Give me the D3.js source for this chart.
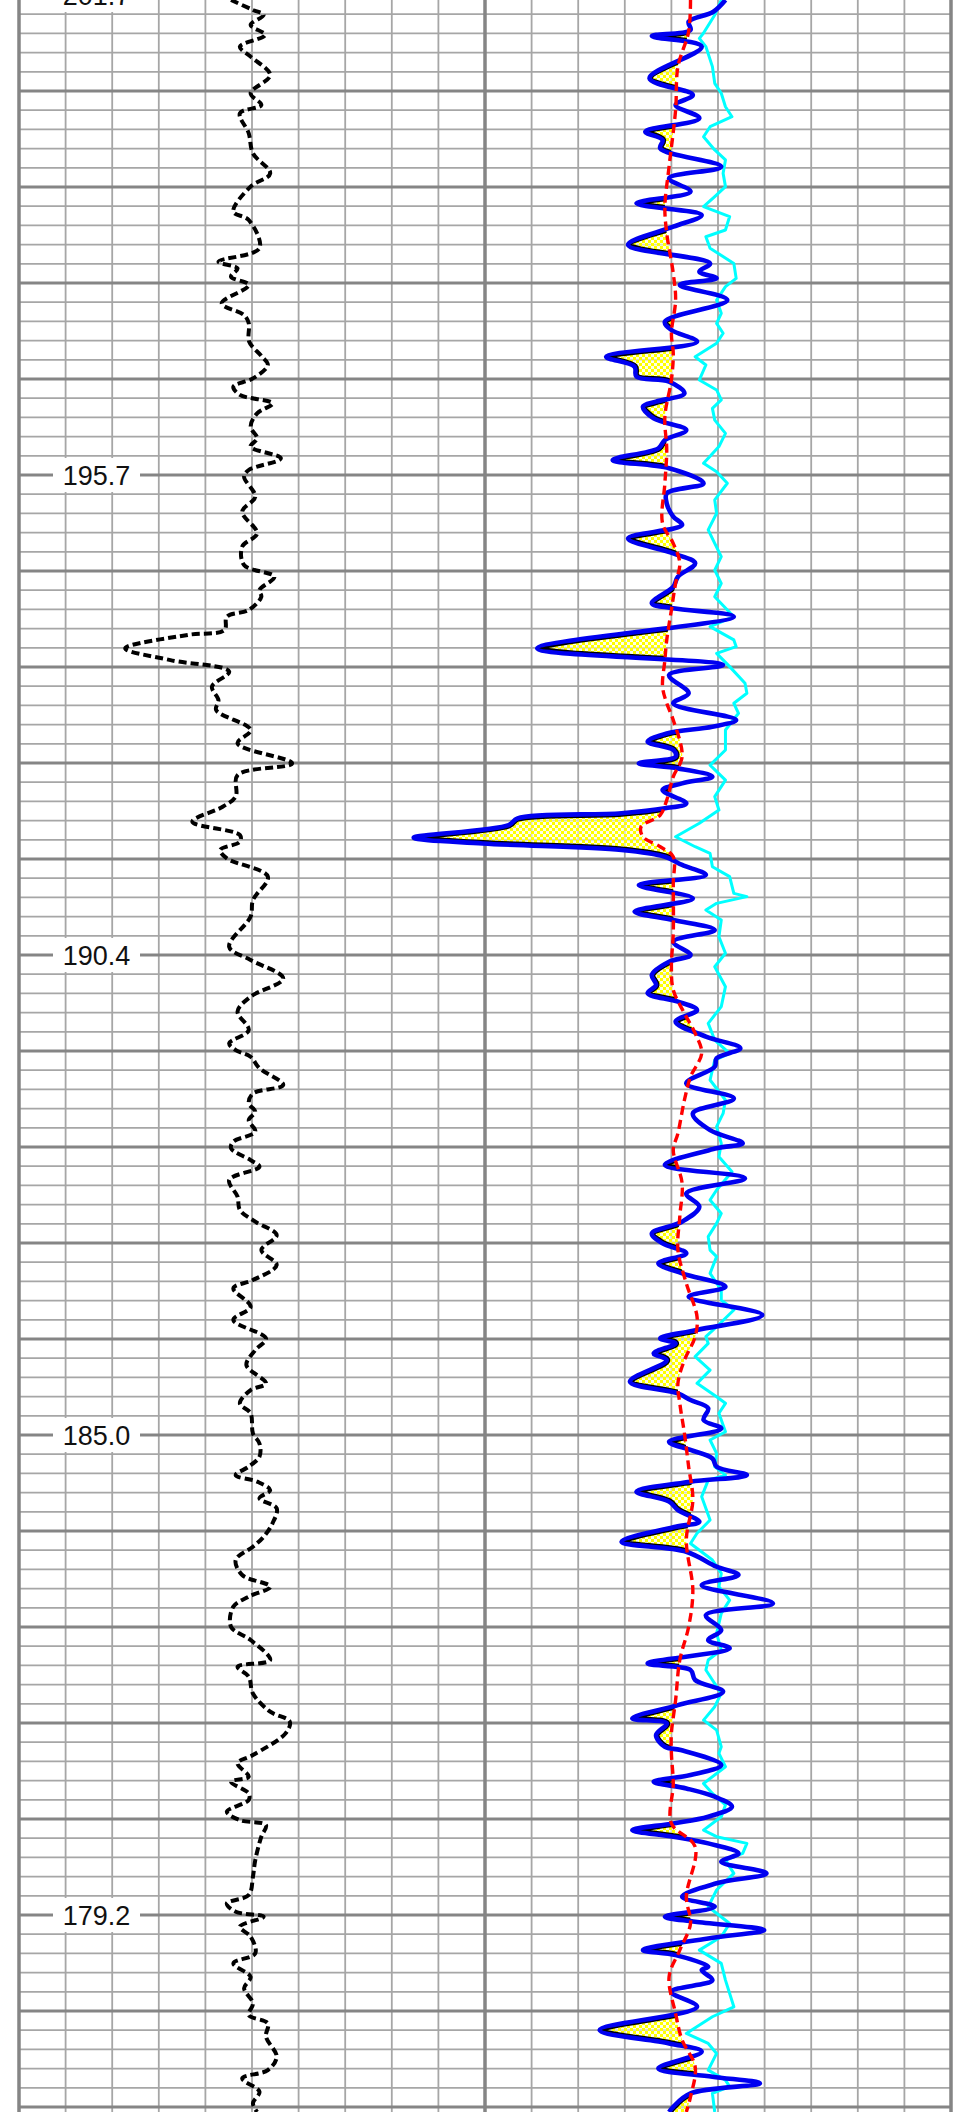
<!DOCTYPE html>
<html><head><meta charset="utf-8">
<script src="https://cdn.jsdelivr.net/npm/d3@7"></script>
<style>html,body{margin:0;padding:0;background:#fff;}svg{display:block;}</style>
</head><body>
<svg id="chart" width="959" height="2112"></svg>
<script>
// depth labels and the grid rows (minor-grid units) where they sit
const depthLabels = ["201.7","195.7","190.4","185.0","179.2"];
const labelRows = [0, 25, 50, 75, 100];

// each curve: [row (minor-grid units from top label), value (track divisions)]
const blackLog = [[0.26,4.55],[0.78,5.02],[1.04,5.25],[1.56,4.97],[2.08,5.28],[2.69,4.74],[3.21,4.97],[4.17,5.39],[5.12,4.97],[5.73,5.20],[6.16,4.74],[7.20,4.93],[8.25,5.02],[9.29,5.39],[9.98,4.97],[11.28,4.60],[11.72,4.93],[13.19,5.16],[13.89,4.28],[14.24,4.69],[14.67,4.55],[15.10,4.93],[16.06,4.35],[16.67,4.83],[17.10,4.93],[18.06,4.94],[18.80,5.20],[19.27,5.34],[19.97,5.02],[20.40,4.60],[20.83,4.74],[21.27,5.44],[21.79,5.11],[22.48,4.97],[23.09,5.11],[23.52,4.97],[24.13,5.62],[24.74,4.93],[25.09,4.83],[26.13,5.07],[26.91,4.79],[28.04,5.11],[28.73,4.79],[29.69,4.83],[30.30,5.48],[30.99,5.16],[31.34,5.20],[32.03,4.93],[32.38,4.46],[33.07,4.41],[33.33,3.62],[34.03,2.28],[34.64,3.25],[35.24,4.51],[36.02,4.14],[36.72,4.28],[37.24,4.23],[38.28,4.97],[38.98,4.69],[40.02,5.86],[40.63,4.69],[41.75,4.65],[42.28,4.37],[43.06,3.72],[43.75,4.74],[44.10,4.74],[44.53,4.32],[44.97,4.46],[45.92,5.34],[47.14,5.02],[48.00,4.97],[49.57,4.51],[50.26,4.97],[51.22,5.67],[52.17,4.97],[52.95,4.69],[53.91,4.93],[54.60,4.51],[54.95,4.65],[55.30,4.97],[55.90,5.16],[56.77,5.67],[57.21,5.02],[57.73,4.93],[58.16,5.07],[58.60,4.93],[59.20,5.07],[59.72,4.60],[60.07,4.55],[60.68,4.97],[61.03,5.16],[61.72,4.51],[62.59,4.69],[63.28,4.74],[63.89,5.07],[64.59,5.53],[65.37,5.20],[66.15,5.53],[66.93,5.02],[67.36,4.60],[68.32,4.97],[69.01,4.60],[69.97,5.30],[70.58,5.07],[71.36,4.88],[72.31,5.30],[72.66,4.97],[73.35,4.74],[73.87,4.97],[74.92,5.02],[75.44,5.16],[76.13,5.16],[76.65,4.93],[77.09,4.65],[77.43,5.11],[77.87,5.39],[78.30,5.16],[78.82,5.53],[79.60,5.44],[80.30,5.25],[80.82,5.02],[81.51,4.65],[82.29,4.79],[82.90,5.39],[83.42,4.93],[83.94,4.60],[84.99,4.55],[85.68,4.97],[86.72,5.39],[87.07,4.69],[87.59,4.93],[88.46,5.02],[89.41,5.39],[89.93,5.81],[90.54,5.72],[91.67,5.02],[92.10,4.69],[92.80,4.93],[93.06,4.55],[93.67,4.93],[94.01,4.93],[94.62,4.46],[95.06,4.74],[95.32,5.30],[95.92,5.20],[97.14,5.07],[98.01,5.02],[98.96,4.93],[99.40,4.46],[99.83,4.65],[100.09,5.25],[100.61,4.74],[101.13,4.97],[102.00,5.07],[102.52,4.60],[103.22,4.97],[103.82,4.83],[104.60,5.02],[105.21,4.93],[105.65,5.34],[106.34,5.30],[107.38,5.53],[108.08,5.34],[108.51,4.79],[109.20,5.16],[109.81,5.02],[110.26,5.11]];

const blueLog = [[0.26,5.16],[0.87,4.90],[1.39,4.37],[1.82,4.41],[2.14,3.58],[2.69,4.65],[4.34,3.53],[5.21,4.46],[5.73,4.09],[6.42,4.60],[7.12,3.44],[7.55,3.81],[7.99,3.76],[8.94,5.07],[9.55,3.95],[10.24,4.41],[10.85,3.25],[11.46,4.65],[12.07,4.04],[13.02,3.07],[13.98,4.83],[14.41,4.60],[14.76,4.97],[15.10,4.18],[15.89,5.20],[17.01,3.86],[17.45,4.00],[18.06,4.55],[18.84,2.60],[19.36,3.21],[19.88,3.25],[20.14,3.95],[20.75,4.28],[21.18,3.67],[21.44,3.39],[22.05,3.62],[22.66,4.32],[23.18,3.86],[23.61,3.72],[24.22,2.74],[24.65,3.95],[25.43,4.69],[25.95,3.90],[26.48,3.90],[27.17,4.04],[27.60,4.23],[28.30,3.07],[29.08,4.04],[29.60,4.51],[30.30,4.14],[30.82,4.04],[31.68,3.58],[31.94,4.04],[32.38,5.34],[34.03,1.12],[34.90,5.11],[35.42,3.95],[36.37,4.37],[36.89,4.04],[37.76,5.39],[38.11,4.88],[38.46,3.90],[38.89,3.49],[39.32,4.04],[39.67,4.09],[40.02,3.30],[40.28,4.14],[40.71,4.88],[41.06,4.23],[41.41,3.81],[42.10,4.32],[42.36,3.86],[42.62,2.93],[42.88,0.70],[43.23,0.51],[43.89,-1.53],[44.19,-0.05],[44.53,2.93],[44.88,3.86],[45.31,4.23],[45.83,4.74],[46.36,3.30],[47.05,4.46],[47.74,3.21],[48.18,4.04],[48.70,4.93],[49.31,4.04],[50.00,4.41],[50.35,3.95],[51.04,3.58],[51.56,3.67],[51.99,3.49],[52.43,4.14],[52.87,4.55],[53.47,4.09],[54.25,4.74],[54.86,5.48],[55.38,4.97],[55.82,4.93],[56.69,4.32],[57.47,5.34],[58.25,4.46],[59.12,4.83],[59.81,5.53],[60.07,4.97],[60.94,3.86],[61.63,5.58],[62.42,4.32],[63.11,4.60],[63.89,4.23],[64.50,3.58],[65.02,3.81],[65.54,4.32],[66.06,3.72],[66.58,4.23],[67.28,5.16],[67.80,4.37],[68.75,5.95],[69.53,4.55],[69.97,3.76],[70.23,4.09],[70.75,3.62],[71.10,3.90],[72.22,3.11],[72.83,4.14],[73.18,4.41],[73.61,4.79],[74.22,4.69],[74.66,5.07],[75.35,3.95],[75.78,4.41],[76.22,4.88],[76.65,4.97],[77.09,5.62],[77.43,4.41],[77.95,3.25],[78.47,3.95],[78.91,4.14],[79.52,4.60],[79.78,4.09],[80.56,2.93],[81.08,4.32],[81.86,4.97],[82.29,5.44],[82.82,4.65],[83.77,6.18],[84.38,4.74],[85.16,5.07],[85.68,4.79],[86.11,5.25],[86.90,3.49],[87.24,4.41],[87.76,4.51],[88.37,5.11],[89.07,4.14],[89.76,3.16],[90.02,3.90],[90.63,3.67],[91.24,3.86],[91.41,4.20],[92.19,5.07],[92.71,4.41],[93.06,3.62],[93.41,4.32],[93.84,4.93],[94.36,5.30],[94.88,4.79],[95.23,4.04],[95.58,3.16],[95.92,4.04],[96.27,4.79],[96.79,5.44],[97.23,5.07],[97.83,6.04],[98.35,4.97],[99.05,4.23],[99.57,4.93],[100.09,3.86],[100.35,4.51],[100.79,5.99],[101.22,4.79],[101.83,3.39],[102.09,4.09],[102.69,4.79],[102.87,4.65],[103.39,4.88],[104.00,4.00],[104.78,4.55],[105.99,2.46],[106.69,3.95],[107.12,4.65],[107.99,3.72],[108.42,4.88],[108.77,5.90],[109.29,4.41],[109.99,4.04],[110.26,3.95]];

const redLog = [[0.26,4.41],[1.91,4.37],[3.73,4.14],[5.99,4.09],[8.94,3.95],[11.02,3.86],[12.41,3.90],[14.50,4.04],[15.89,4.09],[17.62,4.00],[18.66,4.04],[20.05,4.00],[21.96,3.86],[23.70,3.90],[25.43,3.86],[27.52,3.81],[28.56,4.04],[29.60,4.18],[30.64,4.09],[32.03,4.00],[33.59,3.90],[34.64,3.86],[36.02,3.81],[36.89,3.90],[37.76,4.04],[39.67,4.23],[40.71,4.04],[41.93,3.90],[42.71,3.76],[43.32,3.35],[43.84,3.39],[44.36,3.76],[44.88,4.04],[46.27,4.04],[48.87,4.04],[50.61,4.00],[51.82,4.04],[53.04,4.28],[54.08,4.51],[55.12,4.65],[56.34,4.41],[57.55,4.28],[59.29,4.14],[60.16,4.04],[61.89,4.23],[63.63,4.18],[65.37,4.14],[67.10,4.32],[68.84,4.55],[69.88,4.51],[71.10,4.28],[72.31,4.14],[73.35,4.18],[74.92,4.28],[76.65,4.37],[78.39,4.46],[80.47,4.32],[83.08,4.46],[84.99,4.37],[86.72,4.18],[88.81,4.09],[90.54,4.00],[91.58,4.00],[93.15,4.04],[95.23,4.00],[96.45,4.51],[99.05,4.32],[100.44,4.41],[101.83,4.18],[103.22,3.95],[105.13,4.09],[106.51,4.23],[107.90,4.51],[109.47,4.41],[110.26,4.32]];

const cyanLog = [[0.26,5.07],[1.04,4.93],[1.98,4.69],[2.26,4.60],[2.69,4.74],[3.73,4.88],[4.60,4.93],[5.12,5.07],[5.82,5.16],[6.34,5.30],[6.86,4.83],[7.38,4.69],[8.07,4.93],[8.59,5.16],[9.29,5.11],[9.98,5.16],[10.50,4.93],[11.02,4.69],[11.54,5.25],[12.24,5.16],[12.59,4.74],[13.19,4.83],[13.98,5.34],[14.76,5.39],[15.19,5.16],[15.89,4.97],[16.58,5.07],[17.10,4.97],[17.62,5.11],[18.14,4.97],[18.84,4.51],[19.27,4.74],[20.05,4.60],[20.57,4.97],[21.09,5.07],[21.53,4.88],[22.14,4.93],[22.83,5.16],[23.52,5.02],[24.13,4.79],[24.39,4.69],[24.83,4.97],[25.43,5.20],[26.30,4.93],[26.99,4.97],[27.86,4.79],[28.56,4.93],[29.25,5.07],[29.95,4.93],[30.64,5.07],[31.34,4.93],[32.38,5.34],[32.90,4.83],[33.59,5.34],[33.94,5.39],[34.29,4.97],[34.98,5.25],[35.85,5.58],[36.37,5.62],[36.89,5.34],[37.41,5.44],[38.28,5.16],[39.32,5.16],[40.11,4.83],[40.89,5.16],[41.75,4.93],[42.45,5.02],[43.14,4.60],[43.84,4.09],[44.36,4.51],[44.71,4.83],[45.40,4.88],[45.92,5.25],[46.79,5.34],[46.96,5.62],[47.31,4.97],[47.66,4.74],[48.18,5.07],[49.05,5.02],[49.91,5.16],[50.61,4.93],[51.65,5.16],[52.69,5.07],[53.56,4.79],[54.43,4.93],[55.12,5.25],[55.47,4.93],[56.51,4.83],[57.55,5.16],[58.25,5.11],[58.94,4.97],[59.81,5.07],[60.51,5.02],[61.29,5.30],[62.24,4.97],[62.76,4.83],[63.46,5.07],[63.98,4.97],[64.67,4.79],[65.37,4.83],[65.71,4.97],[66.58,4.83],[67.45,5.07],[67.97,5.07],[68.49,5.34],[69.36,4.97],[69.88,4.74],[70.23,4.79],[70.92,4.51],[71.62,4.83],[72.31,4.55],[73.01,4.97],[73.35,5.16],[73.87,5.02],[74.83,5.16],[75.26,4.83],[75.96,4.97],[76.65,4.93],[77.09,5.16],[77.35,4.79],[78.21,4.65],[79.43,4.83],[80.12,4.55],[80.65,4.41],[81.51,4.88],[82.21,5.07],[82.90,5.02],[83.60,5.25],[84.29,5.07],[85.33,4.97],[86.20,5.07],[86.72,4.79],[87.24,4.74],[87.76,4.88],[88.46,5.07],[89.15,4.93],[89.85,4.69],[90.37,4.97],[91.24,5.07],[91.58,5.02],[92.28,5.16],[93.15,4.69],[93.67,4.88],[94.27,5.16],[94.88,5.07],[95.58,4.69],[95.92,4.97],[96.27,5.62],[96.79,5.53],[97.14,5.16],[97.83,5.34],[98.70,4.97],[99.57,4.79],[100.44,5.25],[101.13,5.07],[101.83,4.60],[102.52,5.07],[103.39,5.16],[104.78,5.34],[105.30,4.88],[106.17,4.32],[106.69,4.79],[107.21,4.97],[108.08,4.79],[108.60,5.16],[108.94,5.25],[109.29,4.88],[110.26,4.93]];

const W = 959, H = 2112;
const svg = d3.select("#chart");
const y = d3.scaleLinear().domain([0, 110]).range([-5, 2107]);
const xL = d3.scaleLinear().domain([0, 10]).range([19, 485]);
const xR = d3.scaleLinear().domain([0, 10]).range([485, 951]);

const defs = svg.append("defs");
const pat = defs.append("pattern").attr("id","checker").attr("patternUnits","userSpaceOnUse").attr("width",6).attr("height",6);
pat.append("rect").attr("width",6).attr("height",6).attr("fill","#ffffd8").attr("fill-opacity",0.6);
pat.append("rect").attr("width",3).attr("height",3).attr("fill","#ffff00");
pat.append("rect").attr("x",3).attr("y",3).attr("width",3).attr("height",3).attr("fill","#ffff00");

svg.append("rect").attr("width",W).attr("height",H).attr("fill","#fff");

// grid
const grid = svg.append("g");
const rows = d3.range(0, 111);
const cols = d3.range(0, 11);
grid.selectAll("line.hmin").data(rows.filter(t => t % 5 !== 0)).join("line")
  .attr("x1", xL(0)).attr("x2", xR(10)).attr("y1", d => y(d)).attr("y2", d => y(d))
  .attr("stroke", "#a6a6a6").attr("stroke-width", 1.8);
grid.selectAll("line.vmin").data([...cols.slice(1,10).map(xL), ...cols.slice(1,10).map(xR)]).join("line")
  .attr("x1", d => d).attr("x2", d => d).attr("y1", 0).attr("y2", H)
  .attr("stroke", "#a6a6a6").attr("stroke-width", 1.8);
grid.selectAll("line.hmaj").data(rows.filter(t => t % 5 === 0)).join("line")
  .attr("x1", xL(0)).attr("x2", xR(10)).attr("y1", d => y(d)).attr("y2", d => y(d))
  .attr("stroke", "#858585").attr("stroke-width", 3);
grid.selectAll("line.vmaj").data([xL(0), xL(10), xR(10)]).join("line")
  .attr("x1", d => d).attr("x2", d => d).attr("y1", 0).attr("y2", H)
  .attr("stroke", "#858585").attr("stroke-width", 3.5);

// curve generators
const blueCurve = d3.curveCatmullRom.alpha(0.5);
const redCurve = d3.curveCatmullRom.alpha(0.5);
const blueLine = d3.line().x(d => xR(d[1])).y(d => y(d[0])).curve(blueCurve);
const redLine = d3.line().x(d => xR(d[1])).y(d => y(d[0])).curve(redCurve);
const cyanLine = d3.line().x(d => xR(d[1])).y(d => y(d[0])).curve(d3.curveLinear);
const blackLine = d3.line().x(d => xL(d[1])).y(d => y(d[0])).curve(d3.curveCatmullRom.alpha(0.5));

// clip: left of red, right of blue
defs.append("clipPath").attr("id","leftOfRed").append("path")
  .attr("d", d3.area().y(d => y(d[0])).x0(-10).x1(d => xR(d[1])).curve(redCurve)(redLog));
defs.append("clipPath").attr("id","rightOfBlue").append("path")
  .attr("d", d3.area().y(d => y(d[0])).x0(d => xR(d[1])).x1(W + 10).curve(blueCurve)(blueLog));

const fillG = svg.append("g").attr("clip-path","url(#leftOfRed)")
  .append("g").attr("clip-path","url(#rightOfBlue)");
fillG.append("rect").attr("x",0).attr("y",0).attr("width",W).attr("height",H).attr("fill","url(#checker)");
fillG.append("path").attr("d", blueLine(blueLog)).attr("fill","none").attr("stroke","#000").attr("stroke-width",7);

// curves
svg.append("path").attr("d", blackLine(blackLog)).attr("fill","none")
  .attr("stroke","#000").attr("stroke-width",4).attr("stroke-dasharray","8 4");
svg.append("path").attr("d", cyanLine(cyanLog)).attr("fill","none")
  .attr("stroke","#00ffff").attr("stroke-width",3).attr("stroke-linejoin","round");
svg.append("path").attr("d", blueLine(blueLog)).attr("fill","none")
  .attr("stroke","#0000f0").attr("stroke-width",4.6).attr("stroke-linejoin","round");
svg.append("path").attr("d", redLine(redLog)).attr("fill","none")
  .attr("stroke","#ff0000").attr("stroke-width",3.4).attr("stroke-dasharray","9 5");

// depth labels
const lab = svg.append("g").selectAll("g").data(labelRows).join("g");
lab.append("rect").attr("x",53).attr("y",d => y(d) - 17).attr("width",87).attr("height",34).attr("fill","#fff");
lab.append("text").attr("x",96.5).attr("y",d => y(d) + 10).attr("text-anchor","middle")
  .attr("font-family","'Liberation Sans', Arial, sans-serif").attr("font-size",27).attr("fill","#111")
  .text((d,i) => depthLabels[i]);
</script>
</body></html>
